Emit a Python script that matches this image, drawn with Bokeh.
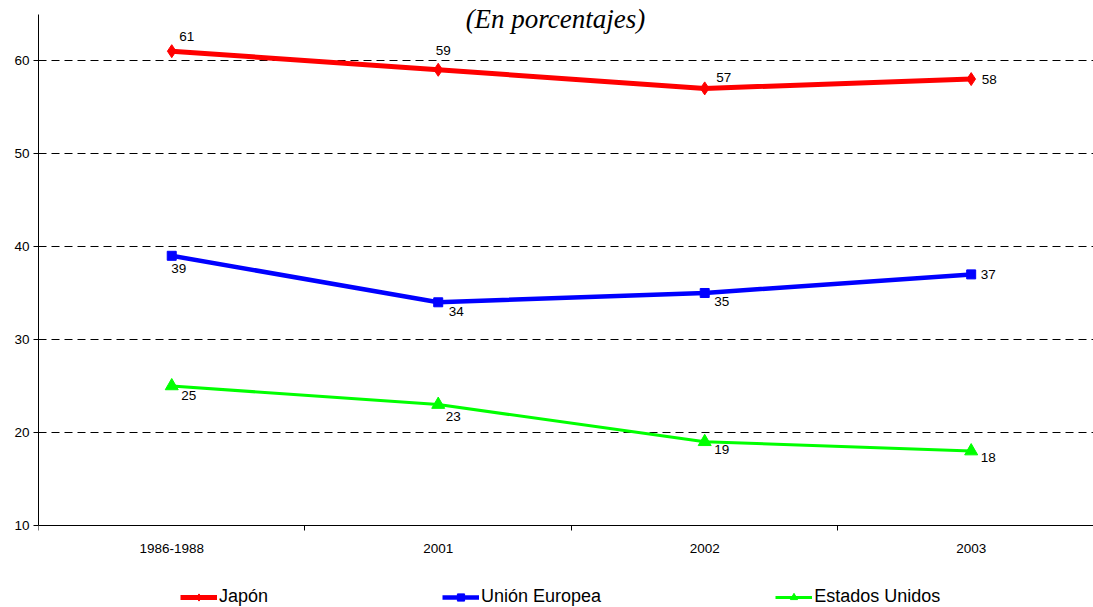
from bokeh.plotting import figure
from bokeh.models import (Range1d, FixedTicker, Legend, LegendItem, Label,
                          ColumnDataSource)
from bokeh.core.properties import value
from bokeh.embed import file_html
from bokeh.resources import INLINE

# ---- data ----
categories = ["1986-1988", "2001", "2002", "2003"]
japon = [61, 59, 57, 58]
union_europea = [39, 34, 35, 37]
estados_unidos = [25, 23, 19, 18]
series_names = ["Japón", "Unión Europea", "Estados Unidos"]
title_text = "(En porcentajes)"
y_ticks = [10, 20, 30, 40, 50, 60]
y_axis_min, y_axis_max = 10, 64.95

# ---- styles / label offsets (px) ----
colors = ["#FF0000", "#0000FF", "#00FF00"]
line_widths = [5, 4.5, 3]
markers = ["diamond", "square", "triangle"]
marker_sizes = [13, 9, 13]
label_dx = [[15, 5, 19, 18], [7, 18, 17, 17], [17, 15, 17, 17]]
label_dy = [[-15, -19, -11, 0], [13, 9, 9, 0], [10, 12, 8, 6]]

FONT = "Liberation Sans"

# frame covers the full page height; x axis is pinned at y = 10
p = figure(width=1093, height=607, output_backend="svg", toolbar_location=None,
           x_range=Range1d(-0.5, 3.459), y_range=Range1d(1.183, 66.45),
           min_border_left=38, min_border_right=0, min_border_top=0,
           min_border_bottom=0)
p.outline_line_color = None
p.background_fill_color = "white"
p.border_fill_color = "white"

# y axis
p.yaxis.ticker = FixedTicker(ticks=y_ticks)
p.yaxis.bounds = (y_axis_min, y_axis_max)
p.yaxis.major_tick_in = 0
p.yaxis.major_tick_out = 5
p.yaxis.minor_tick_line_color = None
p.yaxis.major_label_standoff = 4
p.yaxis.major_label_text_font = FONT
p.yaxis.major_label_text_font_size = "13.5px"
p.yaxis.major_label_text_color = "black"
p.yaxis.axis_line_color = "black"
p.yaxis.major_tick_line_color = "black"

# x axis
xs = list(range(len(categories)))
p.xaxis.fixed_location = y_axis_min
p.xaxis.ticker = FixedTicker(ticks=xs, minor_ticks=[-0.5, 0.5, 1.5, 2.5])
p.xaxis.major_label_overrides = {i: c for i, c in enumerate(categories)}
p.xaxis.major_tick_in = 0
p.xaxis.major_tick_out = 0
p.xaxis.minor_tick_in = 0
p.xaxis.minor_tick_out = 5
p.xaxis.minor_tick_line_color = "black"
p.xaxis.major_label_standoff = 14
p.xaxis.major_label_text_font = FONT
p.xaxis.major_label_text_font_size = "13.5px"
p.xaxis.major_label_text_color = "black"
p.xaxis.axis_line_color = "black"

# grid
p.xgrid.grid_line_color = None
p.ygrid.ticker = FixedTicker(ticks=[t for t in y_ticks if t > y_ticks[0]])
p.ygrid.grid_line_color = "black"
p.ygrid.grid_line_dash = "8 5"
p.ygrid.grid_line_width = 1

all_series = [japon, union_europea, estados_unidos]
items = []
for i, (name, vals) in enumerate(zip(series_names, all_series)):
    src = ColumnDataSource(dict(x=xs, y=vals, t=[str(v) for v in vals],
                                dx=label_dx[i], dy=label_dy[i]))
    r1 = p.line("x", "y", source=src, line_color=colors[i], line_width=line_widths[i])
    r2 = p.scatter("x", "y", source=src, marker=markers[i], size=marker_sizes[i],
                   fill_color=colors[i], line_color=colors[i])
    p.text("x", "y", text="t", source=src, x_offset="dx", y_offset="dy",
           text_align="center", text_baseline="middle",
           text_font=value(FONT), text_font_size="13.5px", text_color="black")
    items.append(LegendItem(label=name, renderers=[r1, r2]))

legend = Legend(items=items, orientation="horizontal", location=(142, 0),
                spacing=174, label_standoff=2, glyph_width=37, glyph_height=18,
                label_height=18, padding=0, margin=0,
                label_text_font=FONT, label_text_font_size="18px",
                label_text_color="black", border_line_alpha=0,
                background_fill_alpha=0)
p.add_layout(legend, "center")

title = Label(x=1.44, y=64.45, text=title_text, text_font="Liberation Serif",
              text_font_style="italic", text_font_size="27px",
              text_align="center", text_baseline="middle", text_color="black")
p.add_layout(title)

open("out.html", "w").write(file_html(p, INLINE))
